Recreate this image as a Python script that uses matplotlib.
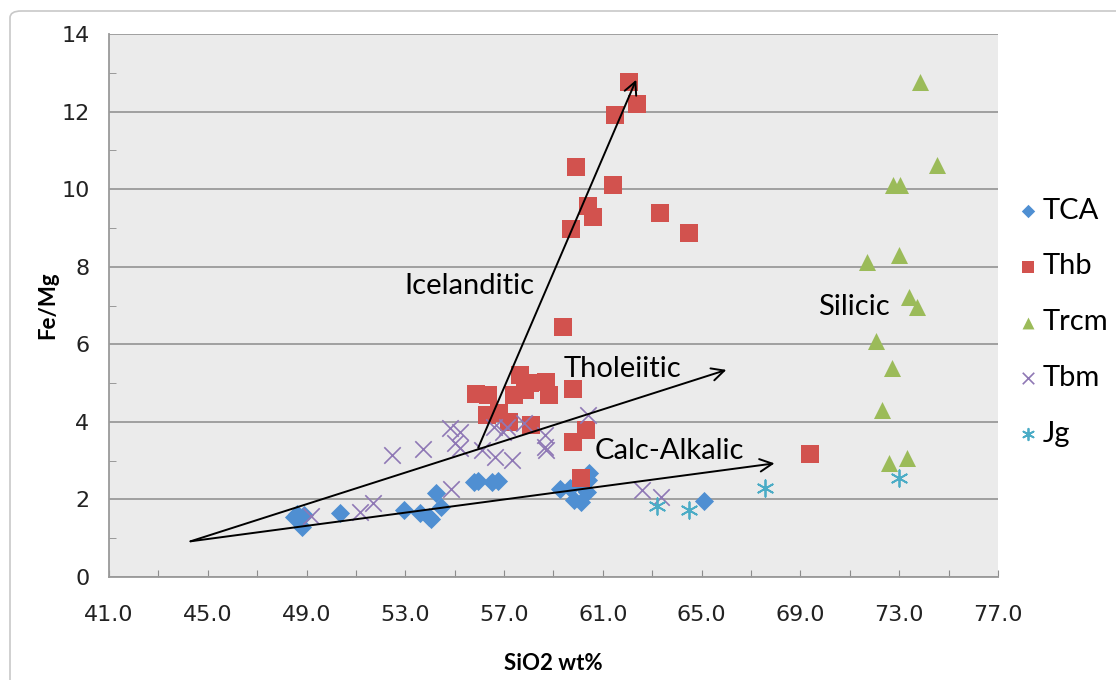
import matplotlib
matplotlib.use("Agg")
import matplotlib.pyplot as plt
from matplotlib.patches import FancyBboxPatch

# --- data ---
tca_x = [48.5, 48.9, 48.8, 48.6, 50.35, 52.95, 53.6, 53.95, 54.05, 54.45, 54.25,
         55.8, 55.95, 56.5, 56.75, 59.25, 59.65, 59.85, 60.1, 60.15, 60.4, 60.45, 60.35, 65.1]
tca_y = [1.55, 1.6, 1.3, 1.62, 1.66, 1.74, 1.64, 1.55, 1.49, 1.81, 2.16,
         2.46, 2.48, 2.44, 2.47, 2.26, 2.29, 1.98, 1.94, 2.35, 2.5, 2.67, 2.2, 1.96]

thb_x = [62.05, 62.4, 61.5, 59.9, 61.4, 60.4, 60.6, 59.7, 63.3, 64.5, 59.4,
         57.65, 55.85, 56.35, 57.4, 58.05, 58.7, 58.8, 57.85, 59.8, 56.3, 56.8,
         57.2, 58.1, 60.3, 59.8, 60.1, 69.4]
thb_y = [12.77, 12.19, 11.9, 10.58, 10.1, 9.56, 9.28, 8.97, 9.39, 8.87, 6.44,
         5.21, 4.73, 4.69, 4.69, 5.0, 5.03, 4.69, 4.82, 4.84, 4.18, 4.22,
         4.0, 3.92, 3.79, 3.49, 2.54, 3.17]

trcm_x = [73.85, 74.55, 72.75, 73.05, 71.7, 73.0, 73.4, 73.7, 72.05, 72.7, 72.3, 72.6, 73.3]
trcm_y = [12.77, 10.62, 10.1, 10.1, 8.13, 8.3, 7.22, 6.97, 6.09, 5.38, 4.3, 2.93, 3.06]

tbm_x = [49.2, 51.15, 51.7, 52.45, 53.7, 54.8, 54.85, 55.2, 55.0, 55.2, 56.1,
         56.6, 56.95, 57.1, 56.65, 57.3, 57.8, 58.65, 58.7, 58.65, 60.4, 62.6, 63.35]
tbm_y = [1.57, 1.68, 1.9, 3.14, 3.3, 3.83, 2.26, 3.75, 3.45, 3.32, 3.27,
         3.87, 3.75, 3.87, 3.1, 3.02, 3.97, 3.66, 3.27, 3.36, 4.18, 2.24, 2.07]

jg_x = [63.2, 64.5, 67.55, 73.0]
jg_y = [1.82, 1.74, 2.3, 2.54]

# trend arrows: common origin, then tips
origin = (44.3, 0.92)
calc_tip = (67.95, 2.93)
thol_tip = (66.0, 5.34)
ice_start = (55.95, 3.33)
ice_tip = (62.35, 12.82)

plt.rcParams["font.family"] = ["DejaVu Sans"]

fig = plt.figure(figsize=(11.16, 6.8), dpi=100)
ax = fig.add_axes([109 / 1116, 1 - 577 / 680, (998 - 109) / 1116, (577 - 34) / 680])
ax.set_facecolor("#ebebeb")

# chart frame around everything
fig.patches.append(FancyBboxPatch((10 / 1116, -0.05), 1.2, 1 - 11 / 680 + 0.05,
                                  boxstyle="round,pad=0,rounding_size=0.01",
                                  transform=fig.transFigure, facecolor="none",
                                  edgecolor="#c8c8c8", linewidth=1.2, zorder=0))

ax.set_xlim(41, 77)
ax.set_ylim(0, 14)
ax.set_xticks(range(41, 78, 2))
ax.set_xticklabels([f"{v:.1f}" if (v - 41) % 4 == 0 else "" for v in range(41, 78, 2)])
ax.set_yticks(range(0, 15, 2))
ax.set_yticks(range(0, 15, 1), minor=True)
ax.tick_params(axis="both", which="both", direction="in", color="#8c8c8c",
               labelsize=16, labelcolor="#222222")
ax.tick_params(axis="x", length=5, pad=20)
ax.tick_params(axis="y", which="major", length=0, pad=14)
ax.tick_params(axis="y", which="minor", length=5)
ax.yaxis.grid(True, color="#9a9a9a", linewidth=1.3)
ax.set_axisbelow(True)
for side in ("top", "right"):
    ax.spines[side].set_visible(False)
for side in ("left", "bottom"):
    ax.spines[side].set_color("#9a9a9a")
    ax.spines[side].set_linewidth(1.3)

ax.set_xlabel("SiO2 wt%", fontsize=16, fontweight="bold", labelpad=20, family="Lato")
ax.set_ylabel("Fe/Mg", fontsize=16, fontweight="bold", labelpad=2, family="Lato")

ax.scatter(tca_x, tca_y, marker="D", s=95, color="#4f8fd2", label="TCA", zorder=3, linewidths=0)
ax.scatter(thb_x, thb_y, marker="s", s=165, color="#d2524e", label="Thb", zorder=3, linewidths=0)
ax.scatter(trcm_x, trcm_y, marker="^", s=150, color="#9bbb59", label="Trcm", zorder=3, linewidths=0)
ax.scatter(tbm_x, tbm_y, marker="x", s=140, color="#8f78b5", label="Tbm", zorder=3, linewidths=1.2)
ax.scatter(jg_x, jg_y, marker=(6, 2, 0), s=140, color="#4bacc6", label="Jg", zorder=3, linewidths=1.3)

arrow_style = dict(arrowstyle="->,head_length=0.9,head_width=0.45", color="black",
                   lw=1.4, shrinkA=0, shrinkB=0)
ax.annotate("", xy=calc_tip, xytext=origin, arrowprops=arrow_style, zorder=4)
ax.annotate("", xy=thol_tip, xytext=origin, arrowprops=arrow_style, zorder=4)
ax.annotate("", xy=ice_tip, xytext=ice_start, arrowprops=arrow_style, zorder=4)

label_kw = dict(fontsize=21, family="Lato", color="black", ha="center", va="center", zorder=5)
ax.text(55.6, 7.5, "Icelanditic", **label_kw)
ax.text(61.8, 5.37, "Tholeiitic", **label_kw)
ax.text(63.7, 3.25, "Calc-Alkalic", **label_kw)
ax.text(71.15, 6.96, "Silicic", **label_kw)

leg = ax.legend(loc="upper left", bbox_to_anchor=(1002 / 1116, 1 - 186 / 680),
                bbox_transform=fig.transFigure, frameon=False,
                prop={"family": "Lato", "size": 21}, markerscale=0.7,
                handletextpad=0.0, labelspacing=1.02, handlelength=1.0, borderaxespad=0)

fig.savefig("out.png", dpi=100)
